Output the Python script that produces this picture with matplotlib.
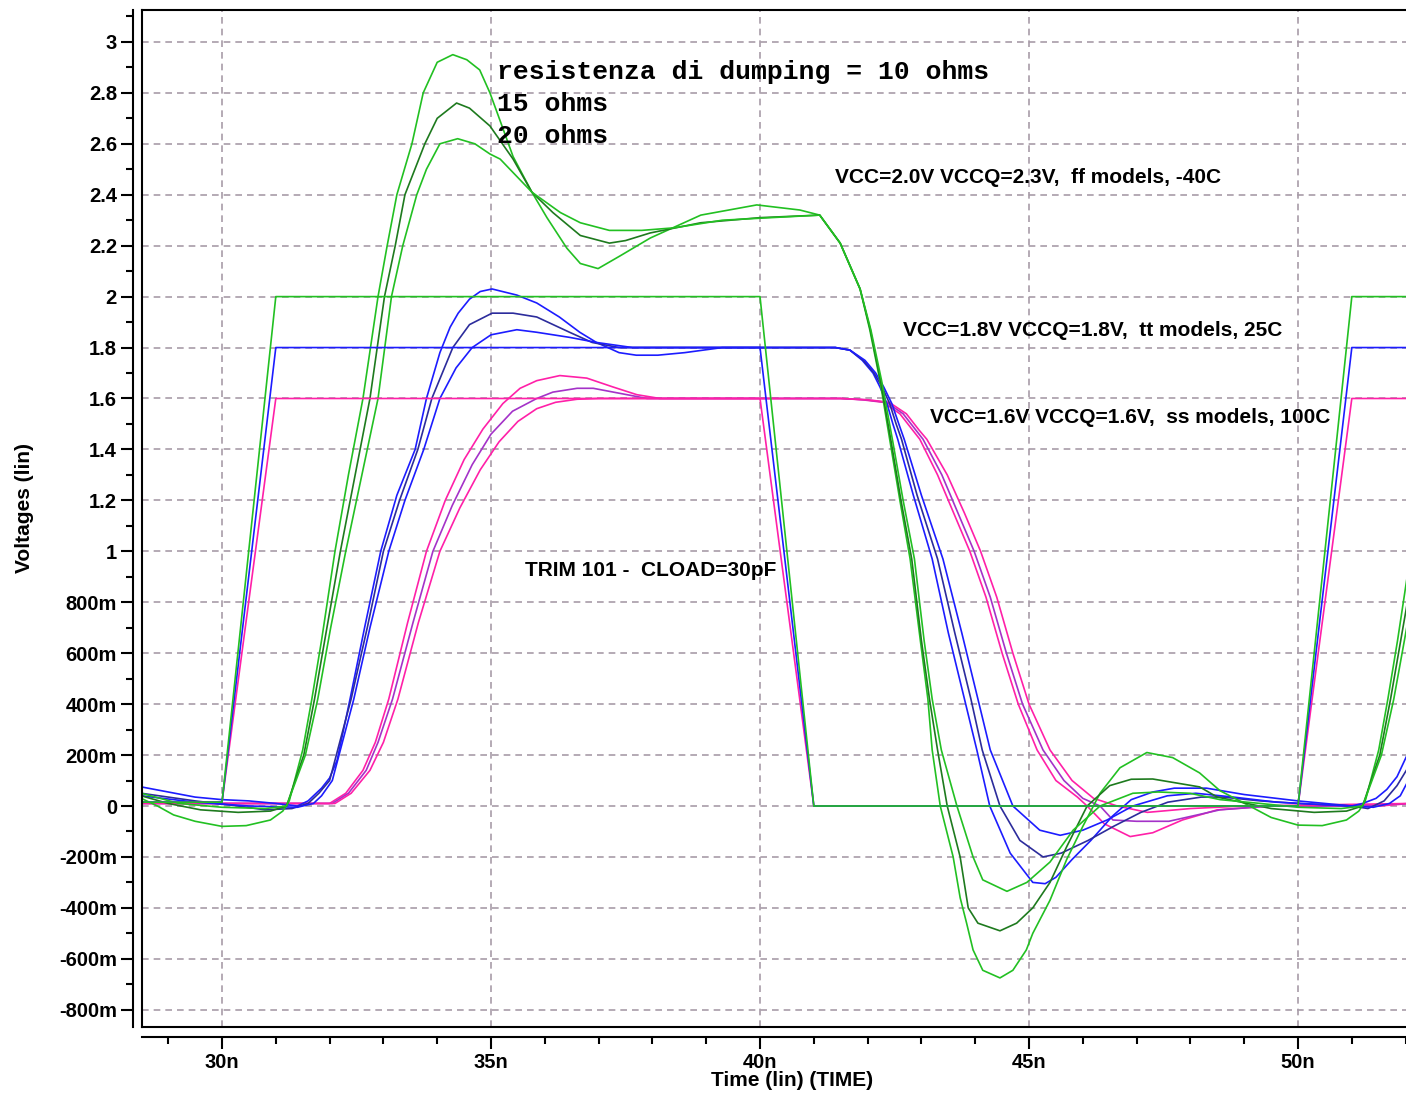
import matplotlib
matplotlib.use('Agg')
import matplotlib.pyplot as plt
from matplotlib.ticker import MultipleLocator

plt.rcParams['font.family'] = ['Liberation Sans', 'DejaVu Sans']
plt.rcParams['font.weight'] = 'bold'

# axis ticks
X_TICKS = [30, 35, 40, 45, 50]
X_TICK_LABELS = ['30n', '35n', '40n', '45n', '50n']
Y_TICKS = [3.0, 2.8, 2.6, 2.4, 2.2, 2.0, 1.8, 1.6, 1.4, 1.2, 1.0,
           0.8, 0.6, 0.4, 0.2, 0.0, -0.2, -0.4, -0.6, -0.8]
Y_TICK_LABELS = ['3', '2.8', '2.6', '2.4', '2.2', '2', '1.8', '1.6', '1.4', '1.2', '1',
                 '800m', '600m', '400m', '200m', '0', '-200m', '-400m', '-600m', '-800m']

# input steps (ns, V)
IN_T = [28.5, 30.0, 31.0, 40.0, 41.0, 50.0, 51.0, 52.1]
IN_FF = [0.015, 0.015, 2.0, 2.0, 0.0, 0.0, 2.0, 2.0]
IN_TT = [0.015, 0.015, 1.8, 1.8, 0.0, 0.0, 1.8, 1.8]
IN_SS = [0.015, 0.015, 1.6, 1.6, 0.0, 0.0, 1.6, 1.6]

# ff corner, VCC=2.0V  (10 / 15 / 20 ohm)
G10_t = [28.5, 28.8, 29.1, 29.5, 30.0, 30.45, 30.9, 31.13, 31.25, 31.5, 31.67, 31.85, 32.1, 32.35,
         32.62, 32.9, 33.07, 33.25, 33.53, 33.74, 34.0, 34.29, 34.55, 34.79, 34.98, 35.17, 35.41,
         35.76, 36.04, 36.41, 36.66, 36.99, 37.4, 37.96, 38.9, 39.94, 40.74, 41.11, 41.49, 41.86,
         42.04, 42.23, 42.41, 42.6, 42.79, 42.98, 43.12, 43.2, 43.35, 43.59, 43.72, 43.84, 43.96,
         44.14, 44.46, 44.7, 44.95, 45.07, 45.39, 45.7, 46.0, 46.32, 46.69, 47.19, 47.67, 48.17,
         48.55, 49.1, 49.5, 50.0, 50.45, 50.9, 51.13, 51.25, 51.5, 51.67, 51.85, 52.1]
G10_v = [0.03, 0.0, -0.035, -0.06, -0.08, -0.077, -0.055, -0.02, 0.02, 0.22, 0.42, 0.65, 1.0, 1.3,
         1.6, 2.0, 2.2, 2.4, 2.6, 2.8, 2.92, 2.95, 2.93, 2.89, 2.8, 2.69, 2.55,
         2.41, 2.31, 2.19, 2.13, 2.11, 2.16, 2.23, 2.32, 2.36, 2.34, 2.32, 2.21, 2.03,
         1.87, 1.67, 1.44, 1.2, 0.97, 0.65, 0.42, 0.22, 0.0, -0.2, -0.36, -0.46, -0.565,
         -0.645, -0.675, -0.645, -0.565, -0.5, -0.37, -0.21, -0.08, 0.05, 0.15, 0.21, 0.19, 0.13,
         0.06, 0.0, -0.045, -0.075, -0.077, -0.055, -0.02, 0.02, 0.22, 0.42, 0.65, 1.0]

G15_t = [28.5, 29.0, 29.6, 30.3, 30.9, 31.2, 31.52, 31.72, 31.95, 32.2, 32.75, 33.02, 33.22, 33.4,
         33.77, 34.0, 34.36, 34.6, 34.98, 35.41, 35.76, 36.15, 36.66, 37.2, 37.5, 37.96, 38.9,
         40.0, 41.11, 41.49, 41.86, 42.05, 42.24, 42.43, 42.62, 42.82, 43.0, 43.15, 43.3, 43.48,
         43.72, 43.87, 44.05, 44.46, 44.77, 45.07, 45.39, 45.7, 46.08, 46.5, 46.9, 47.3, 47.75,
         48.17, 48.5, 49.5, 50.3, 50.9, 51.2, 51.52, 51.72, 51.95, 52.2]
G15_v = [0.04, 0.01, -0.015, -0.025, -0.02, 0.0, 0.2, 0.42, 0.7, 1.0, 1.6, 2.0, 2.2, 2.4,
         2.6, 2.7, 2.76, 2.74, 2.67, 2.54, 2.41, 2.33, 2.24, 2.21, 2.22, 2.25, 2.29,
         2.31, 2.32, 2.21, 2.03, 1.87, 1.67, 1.44, 1.2, 0.97, 0.65, 0.42, 0.22, 0.0,
         -0.2, -0.4, -0.46, -0.49, -0.46, -0.40, -0.3, -0.16, 0.0, 0.08, 0.105, 0.106, 0.09,
         0.075, 0.035, -0.01, -0.025, -0.02, 0.0, 0.2, 0.42, 0.7, 1.0]

G20_t = [28.5, 29.2, 30.0, 30.8, 31.2, 31.55, 31.78, 32.02, 32.3, 32.9, 33.15, 33.36, 33.62, 33.8,
         34.05, 34.38, 34.7, 34.98, 35.17, 35.76, 36.29, 36.66, 37.2, 37.8, 38.4, 39.3, 40.2,
         41.11, 41.49, 41.86, 42.06, 42.26, 42.46, 42.66, 42.87, 43.05, 43.2, 43.37, 43.66, 43.96,
         44.14, 44.59, 44.96, 45.39, 45.82, 46.32, 46.93, 47.4, 47.99, 48.55, 49.3, 50.0, 50.8,
         51.2, 51.55, 51.78, 52.02, 52.3]
G20_v = [0.05, 0.01, -0.005, -0.01, 0.0, 0.2, 0.42, 0.7, 1.0, 1.6, 2.0, 2.2, 2.4, 2.5,
         2.6, 2.62, 2.6, 2.56, 2.54, 2.41, 2.33, 2.29, 2.26, 2.26, 2.27, 2.3, 2.31,
         2.32, 2.21, 2.03, 1.87, 1.67, 1.44, 1.2, 0.97, 0.65, 0.42, 0.22, 0.0, -0.2,
         -0.29, -0.335, -0.30, -0.22, -0.095, 0.0, 0.05, 0.055, 0.05, 0.025, 0.01, -0.005, -0.01,
         0.0, 0.2, 0.42, 0.7, 1.0]

# tt corner, VCC=1.8V
B10_t = [28.5, 29.0, 29.5, 30.0, 30.5, 31.0, 31.4, 31.6, 31.85, 32.0, 32.14, 32.38, 32.65, 32.95,
         33.25, 33.59, 33.8, 34.05, 34.24, 34.39, 34.6, 34.8, 35.02, 35.48, 35.85, 36.27, 36.65,
         36.96, 37.38, 37.7, 38.1, 38.6, 39.3, 41.4, 41.67, 41.9, 42.1, 42.23, 42.36, 42.47,
         42.56, 42.85, 43.2, 43.5, 43.8, 44.03, 44.27, 44.65, 45.07, 45.3, 45.5, 45.8, 46.15,
         46.55, 46.9, 47.3, 47.7, 48.3, 49.0, 50.0, 50.5, 51.0, 51.2, 51.45, 51.65, 51.84, 52.05]
B10_v = [0.075, 0.055, 0.035, 0.025, 0.02, 0.01, 0.0, 0.02, 0.07, 0.11, 0.18, 0.42, 0.7, 1.0,
         1.22, 1.4, 1.6, 1.78, 1.88, 1.935, 1.99, 2.02, 2.03, 2.006, 1.975, 1.92, 1.86,
         1.82, 1.78, 1.77, 1.77, 1.78, 1.80, 1.80, 1.79, 1.75, 1.70, 1.645, 1.58, 1.50,
         1.44, 1.22, 0.97, 0.68, 0.42, 0.22, 0.0, -0.185, -0.30, -0.305, -0.28, -0.21, -0.135,
         -0.04, 0.025, 0.055, 0.07, 0.07, 0.045, 0.02, 0.01, 0.0, 0.01, 0.03, 0.065, 0.115, 0.21]

B15_t = [28.5, 29.5, 30.3, 30.8, 31.3, 31.6, 31.8, 32.0, 32.4, 32.7, 33.0, 33.3, 33.64, 33.9,
         34.29, 34.6, 35.02, 35.41, 35.85, 36.46, 36.88, 37.38, 41.4, 41.67, 41.92, 42.12, 42.27,
         42.41, 42.53, 42.63, 42.92, 43.3, 43.62, 43.92, 44.13, 44.46, 44.83, 45.26, 45.6, 46.1,
         46.57, 47.08, 47.58, 48.2, 48.6, 49.3, 50.0, 51.0, 51.3, 51.6, 51.84, 52.1]
B15_v = [0.05, 0.02, 0.0, -0.015, -0.01, 0.01, 0.05, 0.1, 0.42, 0.7, 1.0, 1.2, 1.4, 1.6,
         1.8, 1.89, 1.935, 1.935, 1.92, 1.86, 1.82, 1.80, 1.80, 1.79, 1.75, 1.70, 1.645,
         1.58, 1.50, 1.44, 1.22, 0.97, 0.68, 0.42, 0.22, 0.0, -0.135, -0.2, -0.185, -0.135,
         -0.08, -0.025, 0.015, 0.035, 0.035, 0.02, 0.01, 0.0, -0.01, 0.02, 0.08, 0.17]

B20_t = [28.5, 29.5, 30.5, 31.4, 31.7, 31.85, 32.05, 32.45, 32.75, 33.1, 33.4, 33.75, 34.05, 34.35,
         34.65, 35.0, 35.48, 35.85, 36.46, 36.96, 37.63, 41.4, 41.67, 41.95, 42.15, 42.3, 42.45,
         42.58, 42.68, 43.0, 43.4, 43.75, 44.05, 44.28, 44.7, 45.2, 45.58, 46.0, 46.45, 46.93,
         47.57, 48.1, 48.8, 49.6, 50.5, 51.0, 51.4, 51.7, 51.9, 52.1]
B20_v = [0.04, 0.015, 0.0, -0.005, 0.01, 0.04, 0.1, 0.42, 0.7, 1.0, 1.2, 1.4, 1.6, 1.72,
         1.8, 1.85, 1.87, 1.86, 1.84, 1.82, 1.80, 1.80, 1.79, 1.75, 1.70, 1.645, 1.58,
         1.50, 1.44, 1.22, 0.97, 0.68, 0.42, 0.22, 0.0, -0.095, -0.115, -0.095, -0.055, 0.0,
         0.04, 0.05, 0.035, 0.015, 0.005, 0.0, -0.005, 0.01, 0.04, 0.12]

# ss corner, VCC=1.6V
M10_t = [28.5, 29.5, 30.5, 31.5, 32.0, 32.3, 32.62, 32.85, 33.1, 33.45, 33.8, 34.15, 34.5, 34.85,
         35.22, 35.54, 35.85, 36.28, 36.78, 37.27, 37.71, 38.14, 41.5, 41.9, 42.29, 42.6,
         42.84, 42.97, 43.3, 43.6, 43.9, 44.2, 44.5, 44.8, 45.15, 45.5, 45.9, 46.08, 46.4, 46.88,
         47.3, 47.85, 48.5, 49.5, 51.0, 51.5, 52.1]
M10_v = [0.01, 0.01, 0.01, 0.01, 0.01, 0.05, 0.14, 0.25, 0.42, 0.72, 1.0, 1.2, 1.36, 1.48,
         1.58, 1.64, 1.67, 1.69, 1.68, 1.645, 1.615, 1.60, 1.60, 1.595, 1.585, 1.54,
         1.475, 1.44, 1.3, 1.15, 1.0, 0.82, 0.6, 0.4, 0.22, 0.1, 0.035, 0.0, -0.07, -0.12,
         -0.105, -0.055, -0.015, 0.0, 0.0, 0.0, 0.01]

M15_t = [28.5, 30.0, 31.5, 32.05, 32.35, 32.68, 32.9, 33.17, 33.55, 33.92, 34.28, 34.65, 35.0, 35.4,
         35.85, 36.15, 36.6, 36.9, 37.4, 37.9, 41.5, 41.95, 42.35, 42.66, 42.9, 43.03, 43.38,
         43.68, 43.98, 44.28, 44.58, 44.88, 45.26, 45.65, 46.0, 46.32, 46.56, 47.0, 47.6, 48.55, 49.5,
         51.0, 52.1]
M15_v = [0.01, 0.01, 0.01, 0.01, 0.05, 0.14, 0.25, 0.42, 0.72, 1.0, 1.18, 1.34, 1.46, 1.55,
         1.60, 1.625, 1.64, 1.64, 1.62, 1.60, 1.60, 1.595, 1.585, 1.54, 1.475, 1.44, 1.3,
         1.15, 1.0, 0.82, 0.6, 0.4, 0.22, 0.1, 0.03, 0.0, -0.055, -0.06, -0.06, -0.015, 0.0,
         0.0, 0.01]

M20_t = [28.5, 30.0, 31.5, 32.1, 32.4, 32.75, 33.0, 33.27, 33.65, 34.05, 34.42, 34.8, 35.15, 35.5,
         35.85, 36.2, 36.6, 37.0, 41.5, 42.0, 42.4, 42.72, 42.96, 43.1, 43.48, 43.8, 44.1,
         44.4, 44.7, 45.0, 45.39, 45.8, 46.2, 46.64, 47.2, 48.0, 49.0, 52.1]
M20_v = [0.01, 0.01, 0.01, 0.01, 0.05, 0.14, 0.25, 0.42, 0.72, 1.0, 1.17, 1.32, 1.43, 1.51,
         1.56, 1.585, 1.597, 1.60, 1.60, 1.595, 1.585, 1.54, 1.475, 1.44, 1.3, 1.15, 1.0,
         0.82, 0.6, 0.4, 0.22, 0.1, 0.03, 0.0, -0.025, -0.01, 0.0, 0.01]

GREEN, DKGREEN = '#22c022', '#1e7a1e'
BLUE, NAVY = '#1c1cff', '#2c2c9c'
PINK, PURPLE = '#ff20a8', '#a432c8'

fig = plt.figure(figsize=(14.06, 10.94), dpi=100)
ax = fig.add_axes([142 / 1406, 67 / 1094, 1264 / 1406, 1017 / 1094])
ax.set_xlim(28.513, 52.007)
ax.set_ylim(-0.8677, 3.1253)

ax.set_xticks(X_TICKS, X_TICK_LABELS)
ax.set_yticks(Y_TICKS, Y_TICK_LABELS)
ax.xaxis.set_minor_locator(MultipleLocator(1))
ax.yaxis.set_minor_locator(MultipleLocator(0.1))
ax.grid(True, which='major', color='#a89ca8', lw=1.2, ls=(0, (4, 3)), zorder=0)

lw = 1.2
ax.plot(M10_t, M10_v, color=PINK, lw=lw)
ax.plot(M15_t, M15_v, color=PURPLE, lw=lw)
ax.plot(M20_t, M20_v, color=PINK, lw=lw)
ax.plot(B10_t, B10_v, color=BLUE, lw=lw)
ax.plot(B15_t, B15_v, color=NAVY, lw=lw)
ax.plot(B20_t, B20_v, color=BLUE, lw=lw)
ax.plot(G10_t, G10_v, color=GREEN, lw=lw)
ax.plot(G15_t, G15_v, color=DKGREEN, lw=lw)
ax.plot(G20_t, G20_v, color=GREEN, lw=lw)
ax.plot(IN_T, IN_SS, color=PINK, lw=lw)
ax.plot(IN_T, IN_TT, color=BLUE, lw=lw)
ax.plot(IN_T, IN_FF, color=GREEN, lw=lw)

# axes frame: separate outer axis lines + inner box
ax.spines['right'].set_visible(False)
ax.spines['left'].set_position(('outward', 6.5))
ax.spines['bottom'].set_position(('outward', 7.2))
for s in ['left', 'bottom', 'top']:
    ax.spines[s].set_linewidth(1.5)
ax.plot([0, 0], [0, 1], transform=ax.transAxes, color='black', lw=1.5, clip_on=False)
ax.plot([0, 1], [0, 0], transform=ax.transAxes, color='black', lw=1.5, clip_on=False)

ax.tick_params(which='major', direction='out', length=8.5, width=1.5, labelsize=14.5, pad=3)
ax.tick_params(which='minor', direction='out', length=5, width=1.5)
ax.tick_params(top=False, right=False, which='both')

mono = dict(family=['Liberation Mono', 'DejaVu Sans Mono'], weight='bold', fontsize=19, va='center')
ax.text(35.11, 2.882, 'resistenza di dumping = 10 ohms', **mono)
ax.text(35.11, 2.756, '15 ohms', **mono)
ax.text(35.11, 2.631, '20 ohms', **mono)

ax.text(41.394, 2.466, 'VCC=2.0V VCCQ=2.3V,  ff models, -40C', fontsize=15, va='center')
ax.text(42.658, 1.865, 'VCC=1.8V VCCQ=1.8V,  tt models, 25C', fontsize=15, va='center')
ax.text(43.16, 1.527, 'VCC=1.6V VCCQ=1.6V,  ss models, 100C', fontsize=15, va='center')
ax.text(35.632, 0.923, 'TRIM 101 -  CLOAD=30pF', fontsize=15, va='center')

fig.text(25 / 1406, 1 - 508 / 1094, 'Voltages (lin)', rotation=90, ha='center', va='center', fontsize=15)
fig.text(792 / 1406, 1 - 1080 / 1094, 'Time (lin) (TIME)', ha='center', va='center', fontsize=15)

plt.savefig('out.png', dpi=100)
